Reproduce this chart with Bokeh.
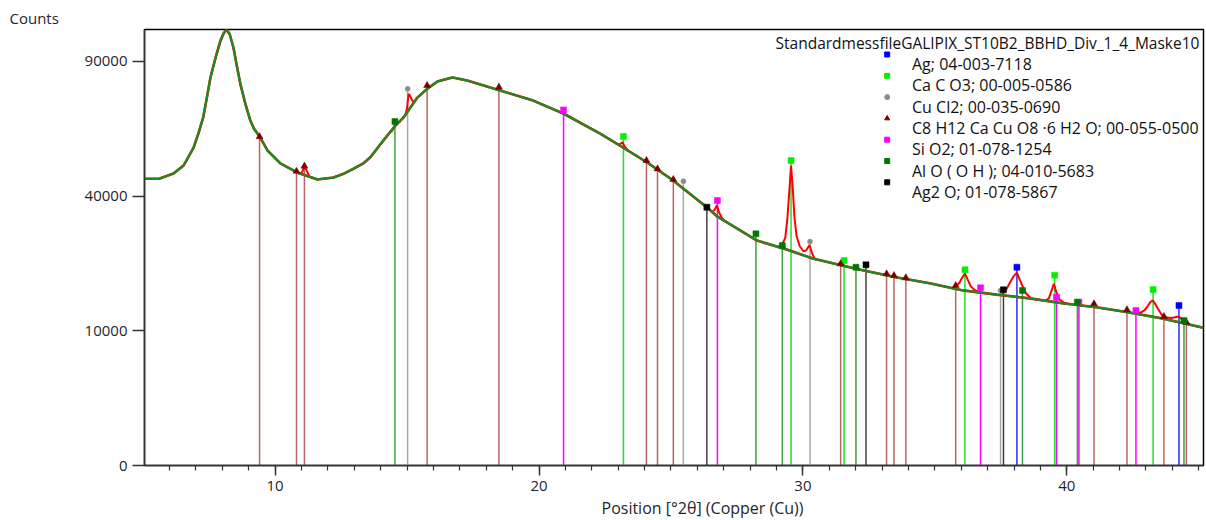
import numpy as np
from bokeh.plotting import figure
from bokeh.models import Range1d, FixedTicker, Label, Title
from bokeh.embed import file_html
from bokeh.resources import INLINE

# ---------------- data ----------------
# background (green) profile: position [deg 2theta], counts
bg_pos = [5.05, 5.6, 6.15, 6.53, 6.91, 7.1, 7.28, 7.42, 7.55, 7.75, 7.93, 8.05, 8.16,
          8.28, 8.42, 8.55, 8.68, 8.87, 9.06, 9.2, 9.41, 9.71, 10.20, 10.84, 11.60,
          12.21, 12.59, 12.96, 13.34, 13.61, 13.86, 14.10, 14.56, 14.86, 15.39, 15.77,
          16.15, 16.72, 17.28, 18.53, 19.78, 20.92, 22.32, 23.19, 24.10, 25.08, 26.37,
          26.75, 28.26, 29.39, 30.38, 31.52, 32.27, 33.56, 34.81, 36.06, 37.34, 38.59,
          39.84, 41.13, 42.38, 43.63, 45.18]
bg_counts = [45300, 45300, 47000, 49600, 55700, 61000, 67000, 75000, 83000, 92000, 99500,
             103000, 104700, 102500, 96300, 88000, 80400, 72200, 65600, 62500, 59700,
             54700, 50300, 47300, 45100, 45700, 46900, 48500, 50300, 52400, 55300, 58200,
             63700, 66700, 74600, 78300, 81300, 83000, 81700, 77500, 73400, 68300, 60700,
             55700, 50600, 44800, 36700, 34200, 27900, 25700, 23600, 22000, 21000, 19500,
             18300, 16900, 16100, 15400, 14500, 13800, 12900, 11900, 10450]

# observed (red) profile where it rises above the background
obs_peaks_pos = [
    [10.98, 11.05, 11.11, 11.18, 11.30],
    [14.40, 14.50, 14.56, 14.64, 14.74],
    [14.92, 15.00, 15.06, 15.12, 15.20, 15.30],
    [22.95, 23.08, 23.16, 23.25, 23.38],
    [26.55, 26.65, 26.74, 26.83, 26.93, 27.05],
    [29.05, 29.22, 29.33, 29.41, 29.49, 29.55, 29.61, 29.68, 29.76, 29.88, 30.02,
     30.12, 30.25, 30.34, 30.45],
    [31.28, 31.43, 31.56],
    [35.65, 35.80, 35.92, 36.02, 36.14, 36.25, 36.36, 36.50, 36.65],
    [37.55, 37.70, 37.85, 37.98, 38.11, 38.22, 38.34, 38.46, 38.62],
    [39.20, 39.32, 39.42, 39.51, 39.60, 39.72, 39.90, 40.10],
    [42.60, 42.80, 42.95, 43.08, 43.18, 43.26, 43.36, 43.46, 43.60, 43.75, 43.95,
     44.10, 44.24, 44.36, 44.50, 44.65],
]
obs_peaks_counts = [
    [46900, 48000, 49300, 48200, 46000],
    [61300, 63000, 64900, 64800, 65200],
    [67000, 70500, 76100, 75200, 73300, 72800],
    [56900, 57000, 57600, 56000, 54600],
    [35400, 36000, 37300, 35200, 33800, 32800],
    [26300, 27100, 28500, 33500, 42000, 49500, 43000, 34000, 29000, 26500, 25300,
     25500, 26800, 25000, 23400],
    [22250, 22650, 21900],
    [17300, 17800, 18300, 19300, 20300, 19000, 17700, 17000, 16600],
    [16300, 17000, 18500, 19700, 20500, 19000, 17500, 16300, 15500],
    [15000, 15400, 16800, 18200, 16600, 15200, 14600, 14350],
    [12700, 12900, 13300, 14100, 14800, 15000, 14300, 13500, 12500, 12100, 12000,
     12100, 12250, 11800, 11300, 11000],
]

# reference patterns (stick positions and marker heights)
ag_pos = [38.11, 44.25]
ag_counts = [21670, 14110]
caco3_pos = [23.20, 29.55, 31.56, 36.14, 39.54, 43.27]
caco3_counts = [59700, 51270, 23160, 21100, 19960, 17070]
cucl2_pos = [15.02, 25.47, 30.27, 37.49]
cucl2_counts = [78200, 44550, 27650, 16880]
cacu_pos = [9.41, 10.81, 11.11, 15.76, 18.48, 24.07, 24.49, 25.09, 31.43, 33.17, 33.45,
            33.90, 35.79, 41.03, 42.28, 43.68, 44.53]
cacu_counts = [59600, 47700, 49400, 79600, 78900, 51300, 48500, 45100, 22420, 20250,
               19900, 19410, 17860, 14410, 13360, 12240, 11320]
sio2_pos = [20.93, 26.76, 36.73, 39.61, 40.46, 42.62]
sio2_counts = [69700, 38700, 17400, 15610, 14700, 13240]
alooh_pos = [14.54, 28.22, 29.22, 32.01, 38.32, 40.40, 44.44]
alooh_counts = [65200, 29580, 26670, 21670, 16880, 14700, 11590]
ag2o_pos = [26.36, 32.39, 37.60]
ag2o_counts = [36780, 22200, 17010]

legend_title = "StandardmessfileGALIPIX_ST10B2_BBHD_Div_1_4_Maske10"
phase_labels = ["Ag; 04-003-7118", "Ca C O3; 00-005-0586", "Cu Cl2; 00-035-0690",
                "C8 H12 Ca Cu O8 \u00b76 H2 O; 00-055-0500", "Si O2; 01-078-1254",
                "Al O ( O H ); 04-010-5683", "Ag2 O; 01-078-5867"]

y_tick_counts = [0, 10000, 40000, 90000]
x_major_ticks = [10, 20, 30, 40]
x_minor_ticks = list(range(5, 46))

# ---------------- style / layout ----------------
W, H = 1206, 520
FL, FR, FT, FB = 144, 1203, 29, 465   # frame edges in pixels
X0, X1 = 5.05, 45.18
Y1 = 323.7                              # sqrt(counts) at top of frame
FONT = "Open Sans"
TXT = "#1e2530"

phases = [
    (ag_pos, ag_counts, "#2a2aff", "#0000ff", "square", 6, 1.0),
    (caco3_pos, caco3_counts, "#22e022", "#00f000", "square", 6, 1.0),
    (cucl2_pos, cucl2_counts, "#a8a8a8", "#8c8c8c", "circle", 5, 1.0),
    (cacu_pos, cacu_counts, "#8b0000", "#7a0000", "triangle", 7, 0.6),
    (sio2_pos, sio2_counts, "#ff00ff", "#ff00ff", "square", 6, 1.0),
    (alooh_pos, alooh_counts, "#008000", "#007800", "square", 6, 0.75),
    (ag2o_pos, ag2o_counts, "#000000", "#000000", "square", 6, 0.75),
]

p = figure(width=W, height=H, output_backend="svg", toolbar_location=None,
           x_range=Range1d(X0, X1), y_range=Range1d(0, Y1),
           min_border_left=FL, min_border_right=W - FR,
           min_border_top=FT, min_border_bottom=H - FB)
p.xgrid.visible = False
p.ygrid.visible = False
p.outline_line_color = "black"
p.outline_line_width = 1.5
p.background_fill_color = "white"
p.border_fill_color = "white"

# y-axis caption at the top-left corner
p.title.text = "Counts"
p.title.align = "left"
p.title.offset = 9 - FL
p.title.standoff = 3
p.title.text_font = FONT
p.title.text_font_size = "15px"
p.title.text_font_style = "normal"
p.title.text_color = TXT

# sticks
for pos, cnt, lc, mc, mk, ms, la in phases:
    p.segment(x0=pos, y0=[0] * len(pos), x1=pos, y1=np.sqrt(cnt).tolist(),
              line_color=lc, line_width=1.5, line_alpha=la)

# observed (red) and background (green)
p.line(bg_pos, np.sqrt(bg_counts).tolist(), line_color="#ff0000", line_width=2.6)
p.multi_line([pp for pp in obs_peaks_pos],
             [np.sqrt(c).tolist() for c in obs_peaks_counts],
             line_color="#ff0000", line_width=2.0)
p.line(bg_pos, np.sqrt(bg_counts).tolist(), line_color="#1f8a1f", line_width=2.3)

# stick markers
for pos, cnt, lc, mc, mk, ms, la in phases:
    p.scatter(pos, np.sqrt(cnt).tolist(), marker=mk, size=ms, fill_color=mc,
              line_color=mc, line_width=0.5)

# axes
p.xaxis.ticker = FixedTicker(ticks=x_major_ticks, minor_ticks=x_minor_ticks)
p.yaxis.ticker = FixedTicker(ticks=[int(round(np.sqrt(v))) for v in y_tick_counts],
                             minor_ticks=[])
p.yaxis.major_label_overrides = {int(round(np.sqrt(v))): str(v) for v in y_tick_counts}
for ax in (p.xaxis, p.yaxis):
    ax.axis_line_color = "#333333"
    ax.axis_line_width = 1.5
    ax.major_tick_line_color = "#333333"
    ax.major_tick_line_width = 1.5
    ax.minor_tick_line_color = "#333333"
    ax.minor_tick_line_width = 1.2
    ax.major_tick_in = 0
    ax.minor_tick_in = 0
    ax.major_label_text_font = FONT
    ax.major_label_text_font_size = "15px"
    ax.major_label_text_color = TXT
p.xaxis.major_tick_out = 10
p.xaxis.minor_tick_out = 5
p.xaxis.major_label_standoff = 5
p.yaxis.major_tick_out = 12

# x-axis caption (placed as in the original, right of centre)
p.add_layout(Title(text="Position [\u00b02\u03b8] (Copper (Cu))", align="left",
                   offset=601 - FL, standoff=2, text_font=FONT,
                   text_font_size="16px", text_font_style="normal",
                   text_color=TXT), "below")


def lbl(text, px, py, size="16px"):
    p.add_layout(Label(x=px - FL, y=FB - py, x_units="screen", y_units="screen",
                       text=text, text_font=FONT, text_font_size=size,
                       text_color="#111111", text_align="left",
                       text_baseline="middle"))


# legend
lbl(legend_title, 775, 42, "15.5px")
leg_x = X0 + (886.7 - FL) / (FR - FL) * (X1 - X0)
for i, (lab, ph) in enumerate(zip(phase_labels, phases)):
    row = 63.5 + i * 21.3
    lbl(lab, 911.5, row)
    mpy = row - 9.5
    p.scatter([leg_x], [(FB - mpy) / (FB - FT) * Y1], marker=ph[4], size=5,
              fill_color=ph[3], line_color=ph[3])

open("out.html", "w").write(file_html(p, INLINE))
